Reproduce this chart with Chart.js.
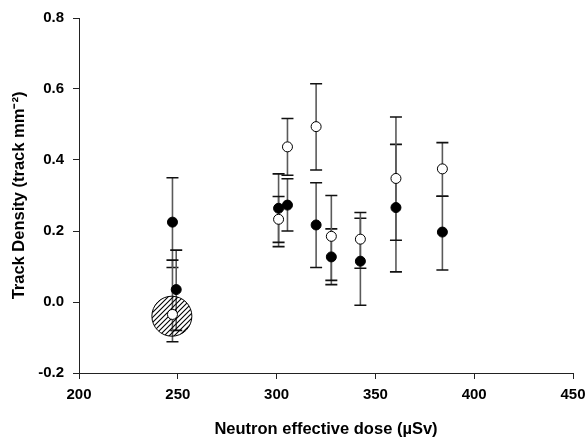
<!DOCTYPE html>
<html>
<head>
<meta charset="utf-8">
<script src="https://cdn.jsdelivr.net/npm/chart.js@4"></script>
<style>
  html, body { margin: 0; padding: 0; background: #fff; }
  #wrap { width: 587px; height: 439px; }
</style>
</head>
<body>
<div id="wrap"><canvas id="doseChart" width="587" height="439"></canvas></div>
<script>
// filled circles
var doseFilled = [247.3, 249.2, 301, 305.5, 320, 327.7, 342.4, 360.4, 383.9];
var densFilled = [0.225, 0.035, 0.264, 0.273, 0.217, 0.127, 0.115, 0.266, 0.197];
var filledLow  = [0.097, -0.08, 0.156, 0.2, 0.097, 0.049, -0.009, 0.085, 0.09];
var filledHigh = [0.35, 0.146, 0.361, 0.347, 0.336, 0.206, 0.236, 0.444, 0.298];

// open circles
var doseOpen = [247.3, 301, 305.5, 320, 327.7, 342.4, 360.4, 383.9];
var densOpen = [-0.035, 0.233, 0.437, 0.494, 0.185, 0.177, 0.348, 0.375];
var openLow  = [-0.112, 0.168, 0.357, 0.372, 0.061, 0.095, 0.174, 0.298];
var openHigh = [0.118, 0.297, 0.517, 0.615, 0.3, 0.252, 0.521, 0.449];

// hatched marker
var doseHatch = [247];
var densHatch = [-0.04];

var xTicks = [200, 250, 300, 350, 400, 450];
var yTicks = [-0.2, 0.0, 0.2, 0.4, 0.6, 0.8];

function toPoints(xs, ys) {
  return xs.map(function (x, i) { return {x: x, y: ys[i]}; });
}

// diagonal hatch pattern
var pc = document.createElement("canvas");
pc.width = 5; pc.height = 5;
var pctx = pc.getContext("2d");
pctx.strokeStyle = "#000";
pctx.lineWidth = 1.1;
pctx.beginPath();
pctx.moveTo(0, 5); pctx.lineTo(5, 0);
pctx.moveTo(-1, 1); pctx.lineTo(1, -1);
pctx.moveTo(4, 6); pctx.lineTo(6, 4);
pctx.stroke();
var hatch = pctx.createPattern(pc, "repeat");

var errorBars = {
  id: "errorBars",
  beforeDatasetsDraw: function (chart) {
    var ctx = chart.ctx;
    var xs = chart.scales.x, ys = chart.scales.y;
    var sets = [
      [doseFilled, filledLow, filledHigh],
      [doseOpen, openLow, openHigh]
    ];
    ctx.save();
    sets.forEach(function (s) {
      s[0].forEach(function (x, i) {
        var px = xs.getPixelForValue(x);
        var lo = ys.getPixelForValue(s[1][i]);
        var hi = ys.getPixelForValue(s[2][i]);
        ctx.strokeStyle = "#5a5a5a";
        ctx.lineWidth = 1.6;
        ctx.beginPath();
        ctx.moveTo(px, lo); ctx.lineTo(px, hi);
        ctx.stroke();
        ctx.strokeStyle = "#111";
        ctx.beginPath();
        ctx.moveTo(px - 6, lo); ctx.lineTo(px + 6, lo);
        ctx.moveTo(px - 6, hi); ctx.lineTo(px + 6, hi);
        ctx.stroke();
      });
    });
    ctx.restore();
  }
};

Chart.defaults.font.family = "'Liberation Sans', Arial, sans-serif";
Chart.defaults.color = "#000";

new Chart("doseChart", {
  type: "scatter",
  data: {
    datasets: [{
      data: toPoints(doseFilled, densFilled),
      backgroundColor: "#000",
      borderColor: "#000",
      pointRadius: 5,
      borderWidth: 1
    }, {
      data: toPoints(doseOpen, densOpen),
      backgroundColor: "#fff",
      borderColor: "#000",
      pointRadius: 5,
      borderWidth: 1
    }, {
      data: toPoints(doseHatch, densHatch),
      backgroundColor: hatch,
      borderColor: "#000",
      pointRadius: 20,
      borderWidth: 1
    }]
  },
  options: {
    responsive: false,
    animation: false,
    events: [],
    layout: {autoPadding: false, padding: {top: 18, right: 14, left: 0, bottom: 0}},
    plugins: {legend: {display: false}, tooltip: {enabled: false}},
    scales: {
      x: {
        type: "linear",
        min: 200, max: 450,
        afterBuildTicks: function (s) { s.ticks = xTicks.map(function (v) { return {value: v}; }); },
        afterFit: function (s) { s.height = 66; s.paddingLeft = 0; s.paddingRight = 0; },
        border: {color: "#222", width: 1},
        grid: {drawOnChartArea: false, drawTicks: true, tickLength: 6, color: "#222"},
        ticks: {font: {size: 15, weight: "bold"}, padding: 7, maxRotation: 0},
        title: {display: true, text: "Neutron effective dose (µSv)", font: {size: 16.5, weight: "bold"}, padding: {top: 0, bottom: 0}}
      },
      y: {
        type: "linear",
        min: -0.2, max: 0.8,
        afterBuildTicks: function (s) { s.ticks = yTicks.map(function (v) { return {value: v}; }); },
        afterFit: function (s) { s.width = 79; s.paddingTop = 0; s.paddingBottom = 0; },
        border: {color: "#222", width: 1},
        grid: {drawOnChartArea: false, drawTicks: true, tickLength: 6, color: "#222"},
        ticks: {font: {size: 15, weight: "bold"}, padding: 9, callback: function (v) { return v.toFixed(1); }},
        title: {display: true, text: "Track Density (track mm⁻²)", font: {size: 16.5, weight: "bold"}, padding: {top: 10, bottom: 0}}
      }
    }
  },
  plugins: [errorBars]
});
</script>
</body>
</html>
